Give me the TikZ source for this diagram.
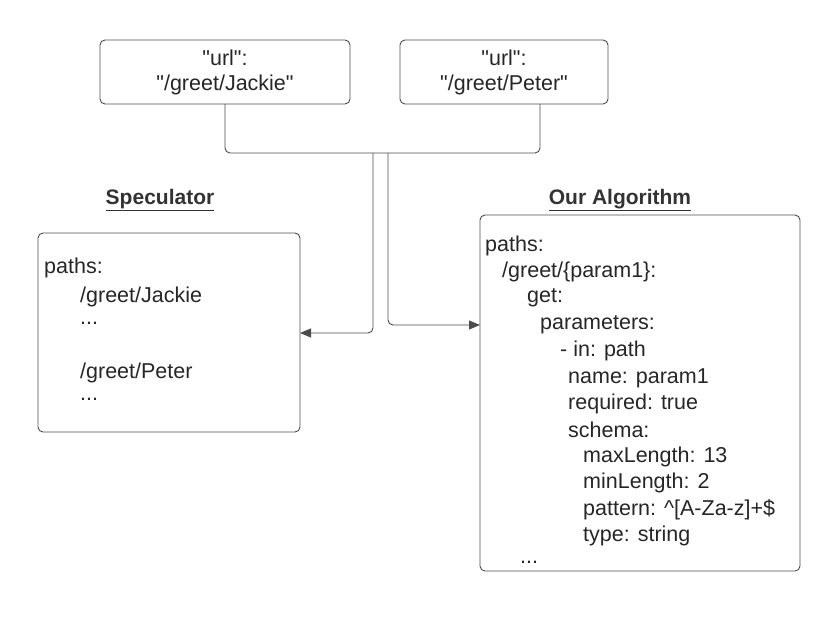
\documentclass[tikz,border=0pt]{standalone}
\usepackage{fontspec}
\setmainfont[Ligatures=TeXOff]{Liberation Sans}
\usetikzlibrary{arrows.meta}
\begin{document}
\begin{tikzpicture}[x=1pt,y=-1pt,
  box/.style={draw=black!70,line width=0.9pt,rounded corners=5pt},
  ln/.style={anchor=west,inner sep=0pt,font=\fontsize{21.5}{25}\selectfont,text=black!85},
  wire/.style={draw=black!70,line width=0.9pt,rounded corners=5pt},
  arr/.style={wire,-{Triangle[length=11pt,width=9pt]}},
  ttl/.style={font=\bfseries\fontsize{21}{24}\selectfont,text=black!80}]
\useasboundingbox (0,0) rectangle (840,640);
\draw[box] (100,40) rectangle (350,104);
\node[ln,anchor=center,align=center] (u1) at (225,72) {"url":\\"/greet/Jackie"};
\draw[box] (400,40) rectangle (608,104);
\node[ln,anchor=center,align=center] (u2) at (504,72) {"url":\\"/greet/Peter"};
\draw[box] (38,233) rectangle (300,432);
\draw[box] (480,215) rectangle (800,571);
\node[ttl] (t1) at (160,200) {\underline{Speculator}};
\node[ttl] (t2) at (620,200) {\underline{Our Algorithm}};
\draw[wire] (225,104) -- (225,153) -- (540,153) -- (540,104);
\draw[arr] (373,153) -- (373,333) -- (300,333);
\draw[arr] (388,153) -- (388,325) -- (480,325);
\node[ln] (s1) at (44,268) {paths:};
\node[ln] (s2) at (80,297) {/greet/Jackie};
\node[ln] (s3) at (80,323) {...};
\node[ln] (s4) at (80,373) {/greet/Peter};
\node[ln] (s5) at (80,399) {...};
\node[ln] (a1) at (485,246) {paths:};
\node[ln] (a2) at (502,272) {/greet/\{param1\}:};
\node[ln] (a3) at (527,298) {get:};
\node[ln] (a4) at (540,325) {parameters:};
\node[ln] (a5) at (560,351) {- in: path};
\node[ln] (a6) at (568,378) {name: param1};
\node[ln] (a7) at (568,404) {required: true};
\node[ln] (a8) at (568,430) {schema:};
\node[ln] (a9) at (583,457) {maxLength: 13};
\node[ln] (a10) at (583,483) {minLength: 2};
\node[ln] (a11) at (583,510) {pattern: \textasciicircum[A-Za-z]+\$};
\node[ln] (a12) at (583,536) {type: string};
\node[ln] (a13) at (520,562) {...};
\end{tikzpicture}
\end{document}
